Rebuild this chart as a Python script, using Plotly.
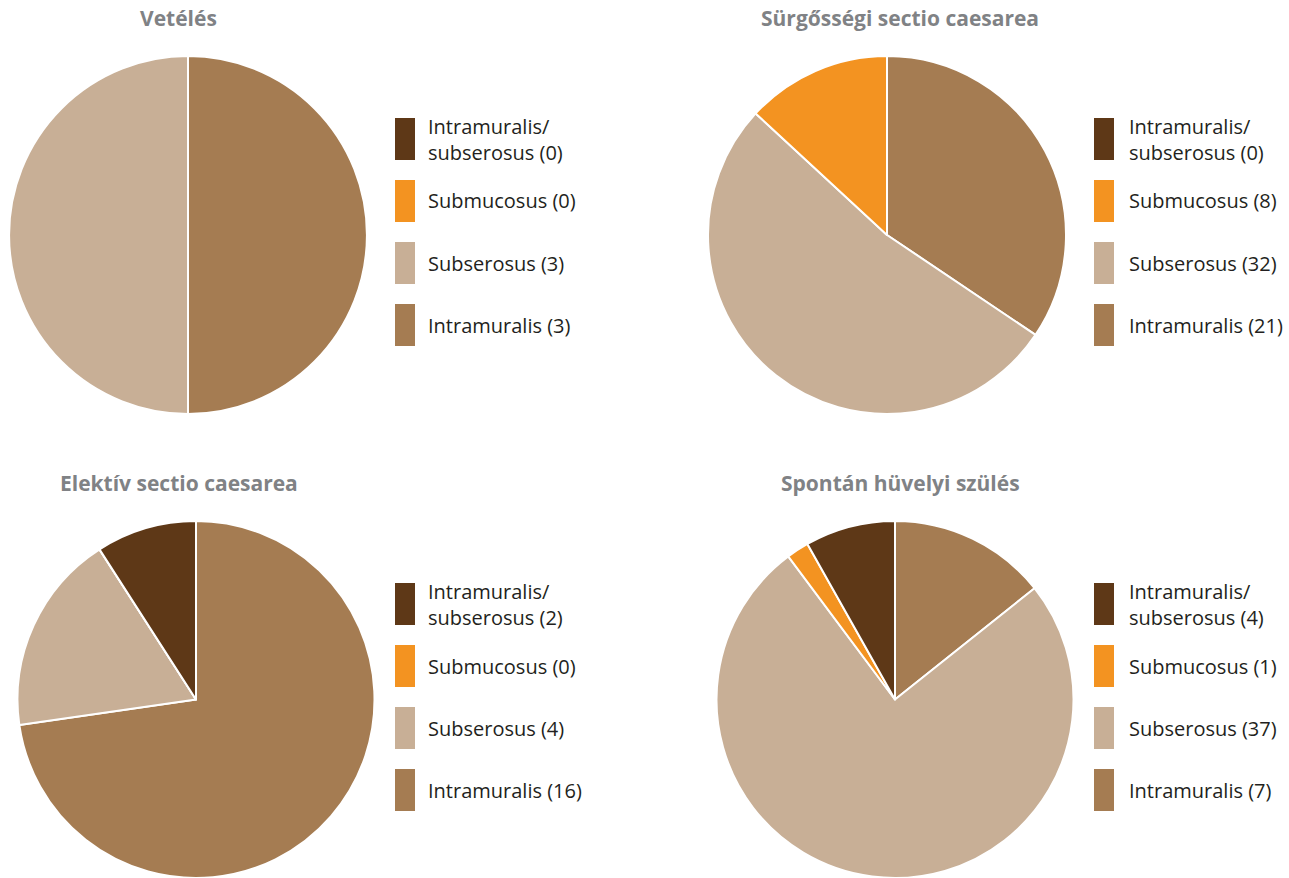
import plotly.graph_objects as go

# Fibroid location counts per delivery outcome
categories = ["Intramuralis", "Subserosus", "Submucosus", "Intramuralis/subserosus"]
legend_labels = ["Intramuralis", "Subserosus", "Submucosus", "Intramuralis/<br>subserosus"]
colors = ["#A57C52", "#C8AF96", "#F39321", "#5E3817"]

titles = ["Vetélés", "Sürgősségi sectio caesarea", "Elektív sectio caesarea", "Spontán hüvelyi szülés"]
vetetes = [3, 3, 0, 0]
surgossegi = [21, 32, 8, 0]
elektiv = [16, 4, 0, 2]
spontan = [7, 37, 1, 4]
series = [vetetes, surgossegi, elektiv, spontan]

W, H = 1289, 878
FONT = "Open Sans"

# Pixel layout of each panel: pie centre, radius, title centre, legend swatch and text left edges
panels = [
    dict(cx=188, cy=235, r=179, tx=178, ty=18, lx=395, txt=426),
    dict(cx=887, cy=235, r=179, tx=900, ty=18, lx=1094, txt=1127),
    dict(cx=196, cy=700, r=179, tx=179, ty=483, lx=395, txt=426),
    dict(cx=895, cy=700, r=179, tx=900, ty=483, lx=1094, txt=1127),
]
legend_top = [118, 118, 583, 583]


def px(x):
    return x / W


def py(y):
    return 1 - y / H


fig = go.Figure()
shapes = []
annotations = []

for i, (p, vals, title) in enumerate(zip(panels, series, titles)):
    top = p["cy"] - p["r"]
    bottom = min(p["cy"] + p["r"], H)
    fig.add_trace(go.Pie(
        labels=categories,
        values=vals,
        marker=dict(colors=colors, line=dict(color="white", width=2)),
        sort=False,
        direction="clockwise",
        rotation=0,
        textinfo="none",
        hoverinfo="label+value",
        showlegend=False,
        domain=dict(x=[px(p["cx"] - p["r"]), px(p["cx"] + p["r"])],
                    y=[py(bottom), py(top)]),
    ))
    annotations.append(dict(
        x=px(p["tx"]), y=py(p["ty"]), xref="paper", yref="paper",
        text=f"<b>{title}</b>", showarrow=False, xanchor="center", yanchor="middle",
        font=dict(family=FONT, size=21, color="#808285"),
    ))
    # Legend: listed in reverse slice order
    for k, idx in enumerate(reversed(range(len(categories)))):
        y0 = legend_top[i] + 62 * k
        shapes.append(dict(
            type="rect", xref="paper", yref="paper",
            x0=px(p["lx"]), x1=px(p["lx"] + 20), y0=py(y0 + 42), y1=py(y0),
            fillcolor=colors[idx], line=dict(width=0),
        ))
        annotations.append(dict(
            x=px(p["txt"]), y=py(y0 + 21), xref="paper", yref="paper",
            text=f"{legend_labels[idx]} ({vals[idx]})", showarrow=False,
            xanchor="left", yanchor="middle", align="left",
            font=dict(family=FONT, size=20, color="#231F20"),
        ))

fig.update_layout(
    width=W, height=H,
    margin=dict(l=0, r=0, t=0, b=0),
    paper_bgcolor="white",
    plot_bgcolor="white",
    shapes=shapes,
    annotations=annotations,
)

fig.write_html("out.html")
